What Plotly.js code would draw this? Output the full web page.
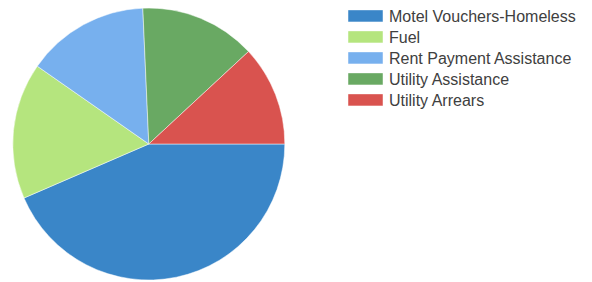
<!DOCTYPE html>
<html>
<head>
<meta charset="utf-8">
<script src="https://cdn.plot.ly/plotly-3.0.1.min.js"></script>
<style>html,body{margin:0;padding:0;background:#fff;}#chart{width:592px;height:282px;}</style>
</head>
<body>
<div id="chart"></div>
<script>
const categories = ["Motel Vouchers-Homeless", "Fuel", "Rent Payment Assistance", "Utility Assistance", "Utility Arrears"];
const values = [43.5, 16.2, 14.6, 13.8, 11.9];
const colors = ["#3a86c8", "#b5e57e", "#77b0ee", "#69a963", "#d9534f"];

const data = [{
  type: "pie",
  labels: categories,
  values: values,
  sort: false,
  direction: "clockwise",
  rotation: 90,
  textinfo: "none",
  hoverinfo: "label+percent",
  marker: { colors: colors, line: { color: "rgba(255,255,255,0.6)", width: 0.8 } },
  domain: { x: [12.8/592, 284.8/592], y: [2/282, 274/282] }
}];

const layout = {
  width: 592, height: 282,
  margin: { l: 0, r: 0, t: 0, b: 0 },
  paper_bgcolor: "#fff",
  showlegend: true,
  legend: {
    x: 339/592, y: 1 - 4/282, xanchor: "left", yanchor: "top",
    itemwidth: 40,
    font: { family: "Liberation Sans, Arial, sans-serif", size: 16, color: "#404040" },
    bgcolor: "rgba(0,0,0,0)"
  }
};

function fixLegend() {
  document.querySelectorAll("#chart path.legendpie").forEach(p => {
    p.setAttribute("transform", "");
    p.setAttribute("d", "M9,6H44V-6H9Z");
  });
  const items = document.querySelectorAll("#chart .legend g.traces");
  let y0 = null;
  items.forEach((g, i) => {
    const t = g.getAttribute("transform") || "";
    const m = t.match(/translate\(\s*([-\d.]+)[ ,]+([-\d.]+)\s*\)/);
    if (!m) return;
    const x = parseFloat(m[1]);
    const y = parseFloat(m[2]);
    if (y0 === null) y0 = y - 5;
    g.setAttribute("transform", "translate(" + x + "," + (y0 + i * 21) + ")");
  });
}

Plotly.newPlot("chart", data, layout, { staticPlot: true }).then(gd => {
  fixLegend();
  gd.on("plotly_afterplot", fixLegend);
});
</script>
</body>
</html>
